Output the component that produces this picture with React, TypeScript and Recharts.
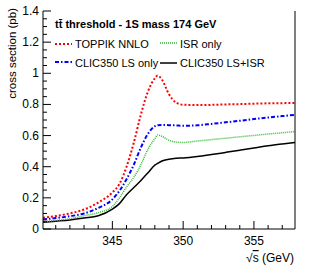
import { LineChart, Line, XAxis, YAxis } from 'recharts'

// sqrt(s) in GeV
const energies = [340.1, 341, 342, 343, 344, 345, 345.5, 346, 346.5, 347, 347.5, 348, 348.2, 348.5, 349, 349.5, 350, 351, 352, 353, 354, 355, 356, 357, 357.9]
// cross sections in pb
const toppik = [0.072, 0.083, 0.1, 0.125, 0.17, 0.235, 0.29, 0.4, 0.55, 0.73, 0.88, 0.968, 0.985, 0.96, 0.865, 0.812, 0.798, 0.796, 0.797, 0.8, 0.802, 0.805, 0.807, 0.808, 0.81]
const lsOnly = [0.062, 0.07, 0.082, 0.1, 0.135, 0.19, 0.245, 0.32, 0.41, 0.52, 0.61, 0.66, 0.667, 0.668, 0.667, 0.665, 0.663, 0.666, 0.675, 0.685, 0.695, 0.706, 0.716, 0.725, 0.733]
const isrOnly = [0.047, 0.055, 0.066, 0.085, 0.105, 0.145, 0.2, 0.27, 0.33, 0.41, 0.51, 0.58, 0.603, 0.595, 0.57, 0.558, 0.556, 0.565, 0.574, 0.583, 0.592, 0.601, 0.61, 0.618, 0.626]
const lsIsr = [0.043, 0.05, 0.058, 0.07, 0.085, 0.128, 0.163, 0.22, 0.265, 0.31, 0.36, 0.41, 0.422, 0.437, 0.448, 0.454, 0.456, 0.465, 0.478, 0.492, 0.506, 0.52, 0.534, 0.546, 0.556]

const xTicks = [341, 342, 343, 344, 345, 346, 347, 348, 349, 350, 351, 352, 353, 354, 355, 356, 357]
const xLabels = [345, 350, 355]
const yTicks = Array.from({ length: 29 }, (_, i) => Math.round(i * 5) / 100)

const data = energies.map((e, i) => ({
  e,
  toppik: toppik[i],
  lsOnly: lsOnly[i],
  isrOnly: isrOnly[i],
  lsIsr: lsIsr[i],
}))

const font = 'Liberation Sans, Arial, sans-serif'

function isMajorY(v: number) {
  return Math.abs(Math.round(v * 5) - v * 5) < 1e-6
}

function LeftTick({ x, y, payload }: any) {
  const major = isMajorY(payload.value)
  return (
    <g>
      <line x1={x} x2={x + (major ? 8 : 4)} y1={y} y2={y} stroke="#000" />
      {major && (
        <text x={x - 4} y={y + 4} textAnchor="end" fontSize={12} fontFamily={font} fill="#000">
          {String(Math.round(payload.value * 10) / 10)}
        </text>
      )}
    </g>
  )
}

function RightTick({ x, y, payload }: any) {
  const major = isMajorY(payload.value)
  return <line x1={x} x2={x - (major ? 8 : 4)} y1={y} y2={y} stroke="#000" />
}

function BottomTick({ x, y, payload }: any) {
  const major = xLabels.includes(payload.value)
  return (
    <g>
      <line x1={x} x2={x} y1={y} y2={y - (major ? 8 : 4)} stroke="#000" />
      {major && (
        <text x={x} y={y + 16} textAnchor="middle" fontSize={12} fontFamily={font} fill="#000">
          {payload.value}
        </text>
      )}
    </g>
  )
}

function TopTick({ x, y, payload }: any) {
  const major = xLabels.includes(payload.value)
  return <line x1={x} x2={x} y1={y} y2={y + (major ? 8 : 4)} stroke="#000" />
}

export default function App() {
  return (
    <div style={{ position: 'absolute', left: 0, top: 0, width: 309, height: 267, background: '#fff' }}>
      <LineChart width={309} height={267} data={data} margin={{ top: 11, right: 0, left: 0, bottom: 0 }}>
        <XAxis
          dataKey="e"
          type="number"
          domain={[340.1, 357.9]}
          ticks={xTicks}
          interval={0}
          height={38}
          tickSize={0}
          tickMargin={0}
          tickLine={false}
          axisLine={{ stroke: '#000' }}
          tick={<BottomTick />}
          allowDataOverflow
        />
        <XAxis
          xAxisId="top"
          dataKey="e"
          type="number"
          orientation="top"
          domain={[340.1, 357.9]}
          ticks={xTicks}
          interval={0}
          height={0}
          tickSize={0}
          tickMargin={0}
          tickLine={false}
          axisLine={{ stroke: '#000' }}
          tick={<TopTick />}
          allowDataOverflow
        />
        <YAxis
          type="number"
          domain={[0, 1.4]}
          ticks={yTicks}
          interval={0}
          width={43}
          tickSize={0}
          tickMargin={0}
          tickLine={false}
          axisLine={{ stroke: '#000' }}
          tick={<LeftTick />}
        />
        <YAxis
          yAxisId="right"
          orientation="right"
          type="number"
          domain={[0, 1.4]}
          ticks={yTicks}
          interval={0}
          width={14}
          tickSize={0}
          tickMargin={0}
          tickLine={false}
          axisLine={{ stroke: '#000' }}
          tick={<RightTick />}
        />
        <Line type="monotone" dataKey="lsIsr" stroke="#000" strokeWidth={1.5} dot={false} isAnimationActive={false} />
        <Line type="monotone" dataKey="isrOnly" stroke="#33bb33" strokeWidth={1.5} strokeDasharray="1 1" dot={false} isAnimationActive={false} />
        <Line type="monotone" dataKey="lsOnly" stroke="#0000ff" strokeWidth={2} strokeDasharray="4 2 1.5 2" dot={false} isAnimationActive={false} />
        <Line type="monotone" dataKey="toppik" stroke="#ff0000" strokeWidth={2} strokeDasharray="2 2" dot={false} isAnimationActive={false} />
      </LineChart>
      <svg width={309} height={267} style={{ position: 'absolute', left: 0, top: 0, pointerEvents: 'none' }}>
        <text transform="translate(16,8) rotate(-90)" textAnchor="end" fontSize={11.5} fontFamily={font} fill="#000">
          cross section (pb)
        </text>
        <text x={55} y={28} fontSize={11} fontWeight="bold" fontFamily={font} fill="#000">
          t{'t\u0304'} threshold - 1S mass 174 GeV
        </text>
        <line x1={55} x2={72} y1={44} y2={44} stroke="#ff0000" strokeWidth={2} strokeDasharray="2 2" />
        <text x={75} y={48} fontSize={11} fontFamily={font} fill="#000">TOPPIK NNLO</text>
        <line x1={160} x2={177} y1={43} y2={43} stroke="#33bb33" strokeWidth={1.5} strokeDasharray="1 1" />
        <text x={180} y={48} fontSize={11} fontFamily={font} fill="#000">ISR only</text>
        <line x1={55} x2={72} y1={62} y2={62} stroke="#0000ff" strokeWidth={2} strokeDasharray="4 2 1.5 2" />
        <text x={75} y={67} fontSize={11} fontFamily={font} fill="#000">CLIC350 LS only</text>
        <line x1={160} x2={177} y1={63} y2={63} stroke="#000" strokeWidth={1.5} />
        <text x={180} y={67} fontSize={11} fontFamily={font} fill="#000">CLIC350 LS+ISR</text>
        <text x={294} y={262} textAnchor="end" fontSize={12} fontFamily={font} fill="#000">
          {'\u221A'}
          <tspan textDecoration="overline">s</tspan>
          {' (GeV)'}
        </text>
      </svg>
    </div>
  )
}
